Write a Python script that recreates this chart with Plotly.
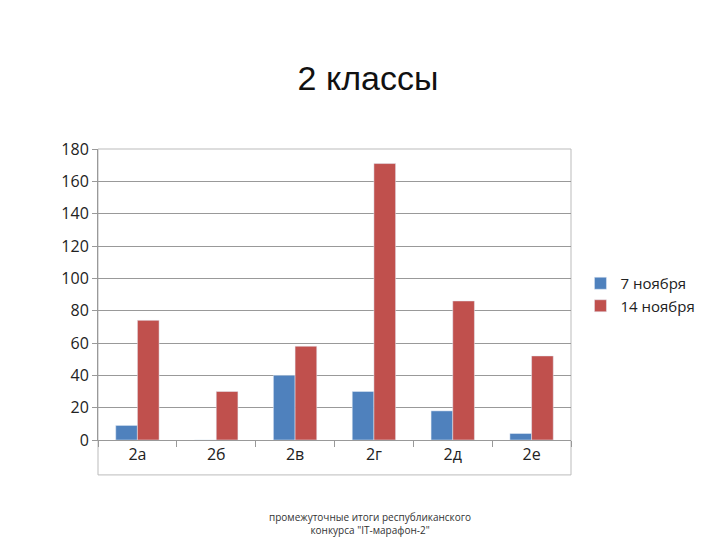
import plotly.graph_objects as go

categories = ["2а", "2б", "2в", "2г", "2д", "2е"]
nov7 = [9, 0, 40, 30, 18, 4]
nov14 = [74, 30, 58, 171, 86, 52]

fig = go.Figure()
fig.add_bar(x=categories, y=nov7, name="7 ноября", marker_color="#4F81BD")
fig.add_bar(x=categories, y=nov14, name="14 ноября", marker_color="#C0504D")

fig.update_layout(
    width=720, height=540, paper_bgcolor="white", plot_bgcolor="white",
    font=dict(family="Open Sans, Liberation Sans, sans-serif", color="#222"),
    title=dict(text="2 классы", x=0.5, xanchor="center", y=0.87, yanchor="middle",
               font=dict(size=34, color="#111", family="Liberation Sans, Open Sans, sans-serif")),
    margin=dict(l=90, r=157, t=141, b=108, autoexpand=False),
    barmode="group", bargap=0.45, bargroupgap=0,
    legend=dict(x=1.02, y=0.5, yanchor="middle", font=dict(size=15, color="#222"),
                bgcolor="rgba(0,0,0,0)"),
    xaxis=dict(showline=True, linecolor="#999", ticks="outside", tickcolor="#999",
               tickson="boundaries", ticklen=6, tickfont=dict(size=16), automargin=False),
    yaxis=dict(range=[0, 180], dtick=20, showgrid=True, gridcolor="#999",
               showline=True, linecolor="#999", ticks="outside", tickcolor="#999",
               ticklen=5, tickfont=dict(size=16), zeroline=False, automargin=False),
    shapes=[dict(type="rect", xref="paper", yref="paper", x0=0, x1=1, y0=-0.12, y1=1,
                 line=dict(color="#BBB", width=1), fillcolor="rgba(0,0,0,0)", layer="below")]
)
fig.add_annotation(text="промежуточные итоги республиканского<br>конкурса \"IT-марафон-2\"",
                   xref="paper", yref="paper", x=0.574, y=-0.235, yanchor="top",
                   showarrow=False, font=dict(size=10, color="#333"))
fig.write_html("out.html")
